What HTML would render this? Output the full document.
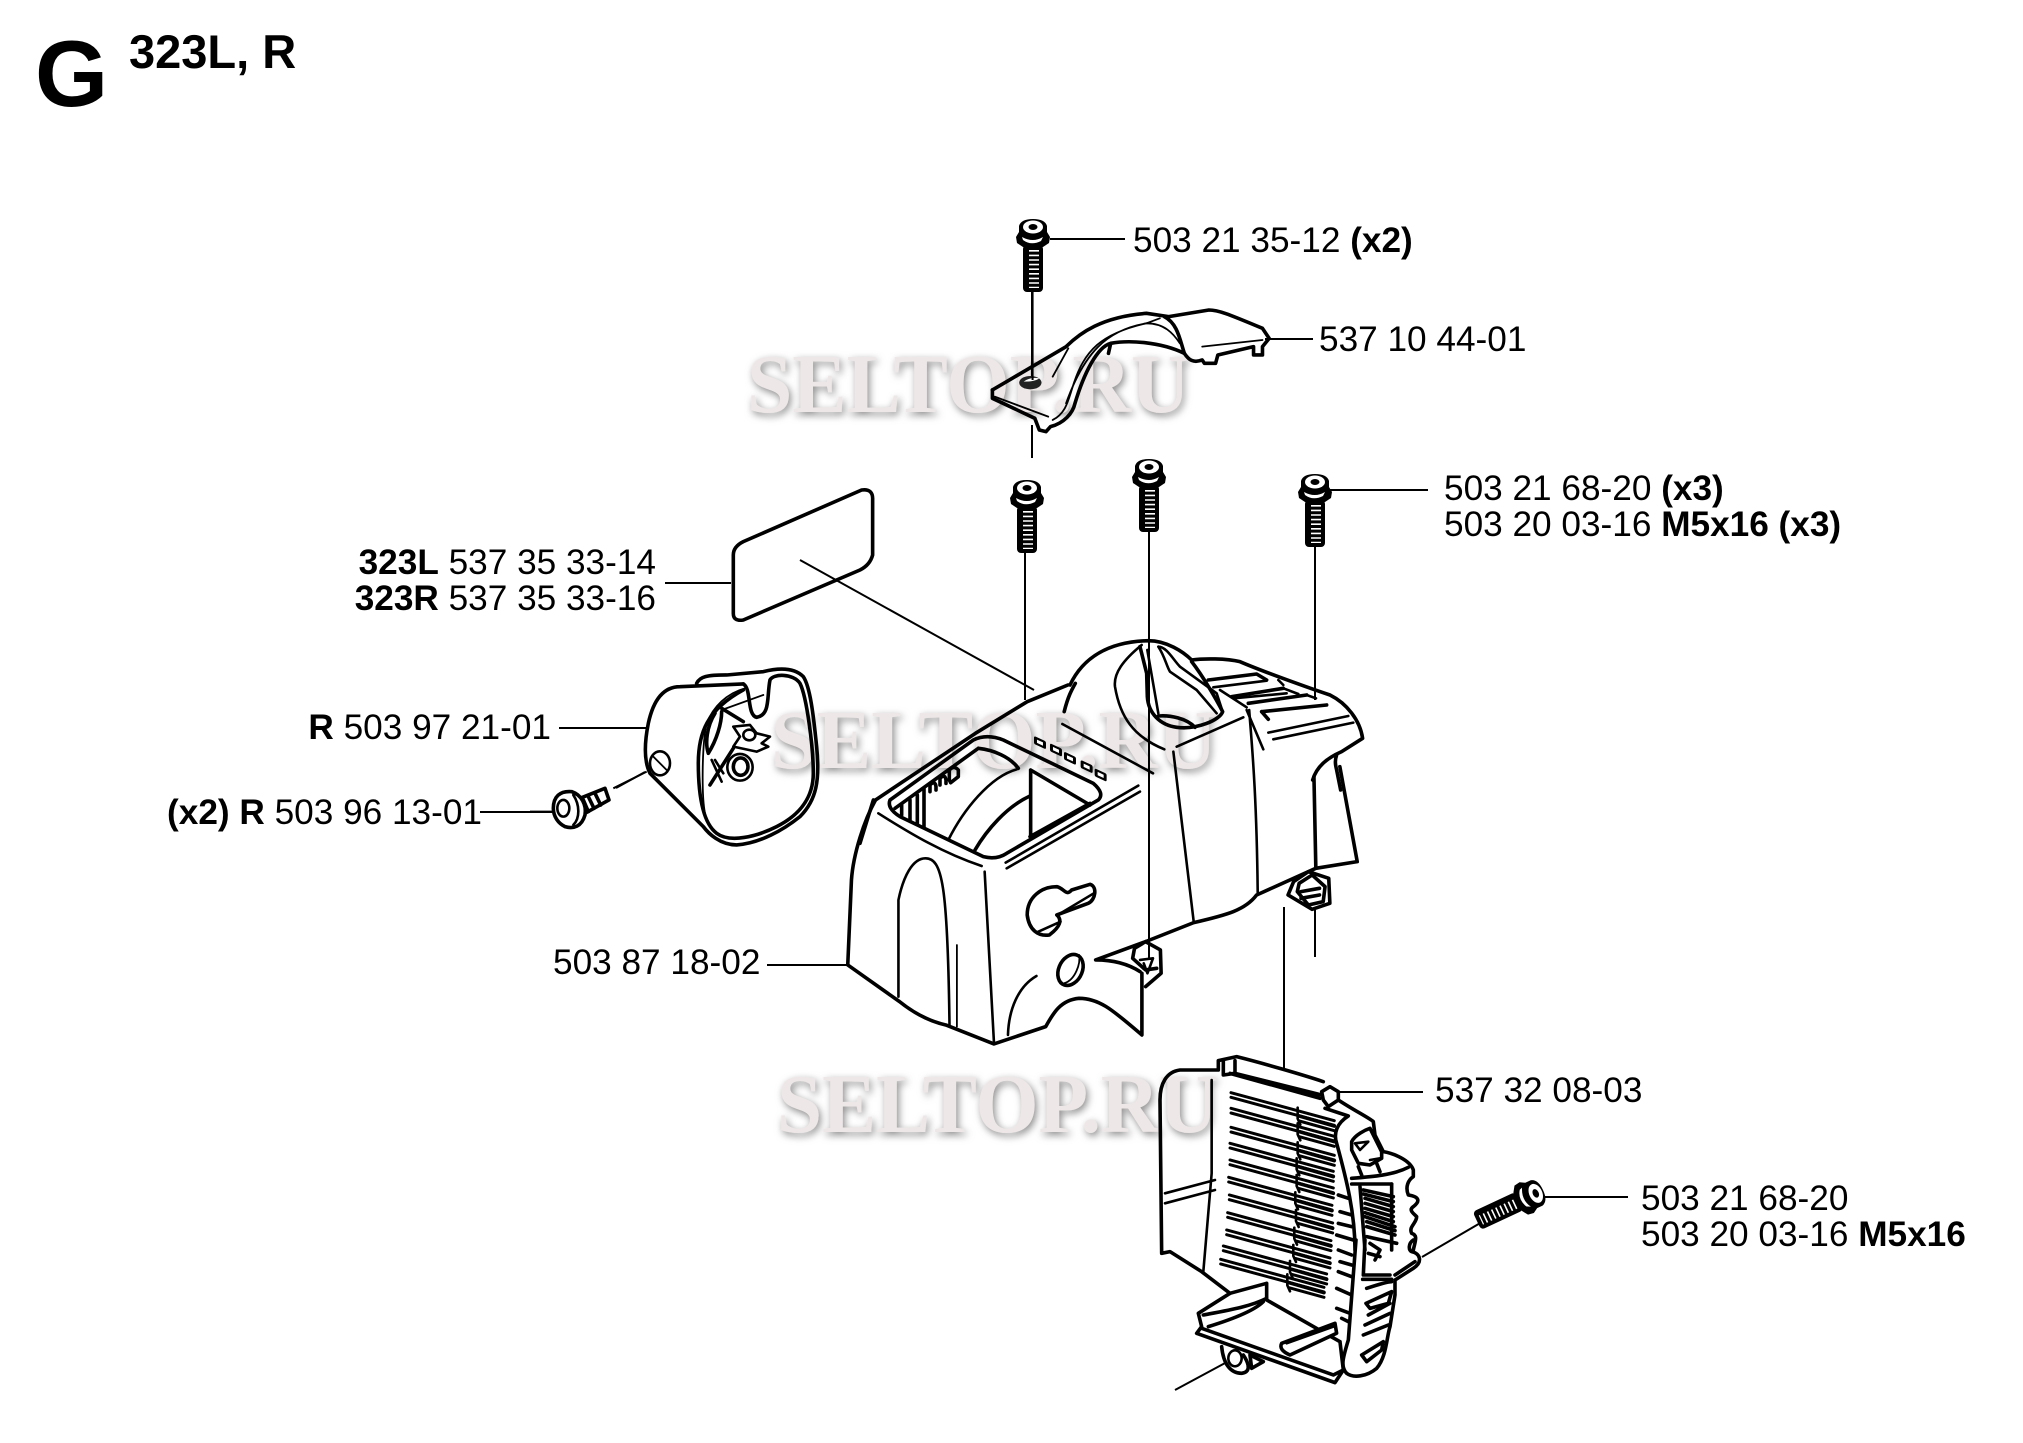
<!DOCTYPE html>
<html><head><meta charset="utf-8"><style>
html,body{margin:0;padding:0;background:#fff}
svg{display:block}
svg *{vector-effect:non-scaling-stroke}
.t{fill:none;stroke:#000;stroke-width:3.6;stroke-linejoin:round;stroke-linecap:round}
.w{fill:#fff;stroke:#000;stroke-width:3.6;stroke-linejoin:round;stroke-linecap:round}
.m{fill:none;stroke:#000;stroke-width:2.6;stroke-linejoin:round;stroke-linecap:round}
.f{fill:none;stroke:#000;stroke-width:3;stroke-linejoin:round;stroke-linecap:round}
.n{fill:none;stroke:#000;stroke-width:1.8;stroke-linejoin:round;stroke-linecap:round}
.l{fill:none;stroke:#000;stroke-width:2}
text{font-family:"Liberation Sans",sans-serif;font-size:35.2px;fill:#000}
.b{font-weight:bold}
.wm{font-family:"Liberation Serif",serif;font-weight:bold;font-size:84px;fill:#eee7e7;filter:url(#sh)}
</style></head><body>
<svg width="2023" height="1443" viewBox="0 0 2023 1443" xmlns="http://www.w3.org/2000/svg">
<defs>
<filter id="sh" x="-10%" y="-30%" width="120%" height="170%"><feDropShadow dx="2" dy="3" stdDeviation="4" flood-color="#8a8a8a"/></filter>
<g id="scr">
<rect x="-10" y="26" width="20" height="47" rx="4" fill="#000"/>
<line x1="1" y1="31" x2="1" y2="69" stroke="#fff" stroke-width="10" stroke-dasharray="1.6 3"/>
<path fill="#000" d="M-14,7Q-12,0 0,0Q12,0 14,7L14,13L17,18L16,24L10,28L-10,28L-16,24L-17,18L-14,13Z"/>
<ellipse cx="0" cy="8" rx="10" ry="6.5" fill="#fff"/>
<ellipse cx="0" cy="8" rx="4.5" ry="3" fill="#000"/>
<path fill="#fff" d="M-11,18Q0,24 10,18L8,22Q-2,27 -10,21Z"/>
</g>
<g id="fin">
<path class="f" d="M0,0L310,84M0,14L310,98"/>
<path class="t" d="M205,70L310,100"/>
<path class="f" d="M205,85L310,114"/>
<path class="m" d="M200,45L200,78L208,96"/>
</g>
<g id="sq"><rect x="-18" y="-12" width="36" height="24" rx="5" fill="#000" transform="skewY(25)"/><rect x="-9" y="-5" width="18" height="10" fill="#fff" transform="skewY(25)"/></g>
</defs>
<text class="wm" x="747" y="412" textLength="443" lengthAdjust="spacingAndGlyphs">SELTOP.RU</text>
<text class="wm" x="771" y="768" textLength="446" lengthAdjust="spacingAndGlyphs">SELTOP.RU</text>
<text class="wm" x="777" y="1132" textLength="441" lengthAdjust="spacingAndGlyphs">SELTOP.RU</text>
<text class="b" x="35" y="106" style="font-size:94px">G</text>
<text class="b" x="129" y="68" style="font-size:47px">323L, R</text>
<text x="1133" y="252">503 21 35-12 <tspan class="b">(x2)</tspan></text>
<text x="1319" y="351">537 10 44-01</text>
<text x="1444" y="500">503 21 68-20 <tspan class="b">(x3)</tspan></text>
<text x="1444" y="536">503 20 03-16 <tspan class="b">M5x16 (x3)</tspan></text>
<text x="656" y="574" text-anchor="end"><tspan class="b">323L</tspan> 537 35 33-14</text>
<text x="656" y="610" text-anchor="end"><tspan class="b">323R</tspan> 537 35 33-16</text>
<text x="551" y="739" text-anchor="end"><tspan class="b">R</tspan> 503 97 21-01</text>
<text x="482" y="824" text-anchor="end"><tspan class="b">(x2) R</tspan> 503 96 13-01</text>
<text x="553" y="974">503 87 18-02</text>
<text x="1435" y="1102">537 32 08-03</text>
<text x="1641" y="1210">503 21 68-20</text>
<text x="1641" y="1246">503 20 03-16 <tspan class="b">M5x16</tspan></text>
<!-- leaders -->
<path class="l" d="M1050,239H1125M1032,292V380M1032,425V458M1329,490H1428M1025,552V700M1149,530V960M1315,546V700M1315,910V957M1265,339H1313M665,583H731M800,560L1034,690M559,728H647M616,788L645,772M480,812H553M767,965H848M1284,907V1068M1337,1092H1423M1545,1197H1628M1422,1257L1482,1222M1175,1390L1227,1362"/>
<!-- screws -->
<use href="#scr" x="1033" y="219"/>
<use href="#scr" x="1027" y="480"/>
<use href="#scr" x="1149" y="459"/>
<use href="#scr" x="1315" y="474"/>
<use href="#scr" transform="translate(1543,1190) rotate(65)"/>
<!-- bracket -->
<g transform="translate(950,200) scale(.4464,.3333)">
<path class="t" d="M95,570L260,440C290,400 340,350 440,340L490,350L580,330C600,330 620,340 700,385L715,415L700,440L700,465L680,465L680,440L600,465L595,490L570,490L565,480C545,490 535,480 525,460C515,420 510,370 480,350"/>
<path class="t" d="M360,430C400,420 470,425 525,460M95,570L95,595L190,655L200,690L215,695L225,680C255,670 275,640 280,610C300,520 330,440 360,430L355,460"/>
<path class="n" d="M100,590L220,650M230,660C260,640 265,600 275,560C300,450 340,400 440,370L470,355M260,610C300,460 350,390 440,370C480,370 500,400 515,430M565,440L700,420M265,445L230,530"/>
<ellipse cx="180" cy="548" rx="25" ry="20" fill="#222"/>
<path fill="#fff" d="M165,545Q180,530 200,535Q190,545 165,545Z"/>
<path class="l" d="M185,540V275"/>
</g>
<!-- sticker + guard -->
<g transform="translate(530,480) scale(.3333)">
<path class="t" d="M640,185L995,30Q1030,25 1028,60L1028,225Q1020,255 990,270L640,420Q610,425 610,400L610,225Q610,200 640,185Z"/>
<path class="t" d="M500,610C510,590 530,585 590,585L700,575C740,565 790,560 820,590C840,620 850,700 860,800C870,900 860,960 810,1010C760,1050 690,1090 620,1095C570,1095 535,1060 520,1040L360,880C340,840 345,780 355,730C370,660 400,620 450,620L640,612"/>
<path class="t" d="M640,612C665,625 650,705 680,712C722,705 710,650 720,600C730,580 790,580 810,610C830,650 850,800 850,880C850,960 800,1010 740,1040C680,1070 600,1090 560,1060C520,1030 505,950 505,850C505,760 530,690 640,630"/>
<path class="n" d="M525,1000C515,950 515,800 530,730C550,680 590,640 645,625M575,690L700,645"/>
<path class="t" d="M575,685L640,725M555,700C530,740 525,790 535,820C560,780 575,730 575,695M540,915L610,805"/>
<path class="m" d="M610,740L660,735L680,760L720,770L695,790L715,800L680,815L610,800L630,770ZM545,840L575,905M555,840L580,880"/>
<ellipse cx="658" cy="765" rx="18" ry="16" class="m"/>
<ellipse cx="630" cy="862" rx="38" ry="40" class="m"/>
<ellipse cx="632" cy="860" rx="22" ry="26" class="t"/>
<ellipse cx="390" cy="850" rx="30" ry="36" class="m"/>
<path class="n" d="M370,830L410,870"/>
<path d="M150,955L225,925L237,960L165,1000Z" class="w"/>
<path class="t" d="M175,950L192,985M195,940L212,975M160,960L175,995"/>
<path class="w" d="M70,985C70,950 90,932 125,935C155,945 170,975 165,1005C155,1040 130,1048 105,1040C85,1030 70,1010 70,985Z"/>
<ellipse cx="100" cy="985" rx="18" ry="25" class="m"/>
<path class="m" d="M130,945C150,975 150,1015 130,1035"/>
<path class="l" d="M0,995H70M250,925L350,875"/>
</g>
<!-- cover body -->
<g transform="translate(820,620) scale(.37,.3333)">
<path class="t" d="M150,540L420,340L560,245L670,195"/>
<path class="t" d="M150,540C120,600 90,700 85,780L75,1035L215,1145C260,1185 300,1205 340,1215L470,1272L610,1220C630,1180 650,1140 700,1135C760,1135 800,1180 870,1245L870,1060"/>
<path class="t" d="M660,275C670,230 680,210 690,190M1335,470L1340,740"/>
<path class="t" d="M1405,440L1452,725L1340,745L1180,825C1150,870 1100,885 1010,908L880,965L745,1020C790,1020 830,1030 865,1055"/>
<path class="m" d="M955,395L1010,905M1160,270C1165,350 1180,500 1183,820M655,312L900,460"/>
<path class="m" d="M212,1130L212,840C225,770 250,715 285,715C330,715 345,790 350,1215M445,755L470,1265"/>
<path class="n" d="M370,975V1220"/>
<path class="m" d="M508,1245C510,1170 535,1100 585,1068"/>
<path class="t" d="M560,885C560,830 600,800 640,800C660,805 665,830 680,810L730,793C750,800 745,840 725,850L640,885C655,900 650,920 620,945C590,950 565,930 560,885Z"/>
<path class="m" d="M590,935L650,905M650,880L740,820"/>
<ellipse cx="677" cy="1050" rx="32" ry="48" class="t" transform="rotate(20 677 1050)"/>
<path class="n" d="M660,1090C690,1080 705,1030 700,1005"/>
<path class="t" d="M880,965L920,990L922,1060L880,1100M880,965L850,985L845,1015L880,1050L910,1045"/>
<path class="m" d="M865,1020L900,1015L885,1060L875,1030"/>
<path class="t" d="M1320,755L1375,775L1378,850L1330,868L1265,825L1280,785Z"/>
<path class="t" d="M1295,790L1330,765L1365,800L1360,845L1320,855L1290,815ZM1300,815L1350,805M1300,835L1350,825"/>
</g>
<!-- cover top right -->
<g transform="translate(1070,630) scale(.3333)">
<path class="t" d="M0,165C40,80 120,35 235,32C290,32 340,65 365,90C400,85 470,85 510,95C580,125 720,175 780,195C830,220 870,270 878,325L815,365C770,385 740,410 728,450"/>
<path class="t" d="M800,375C795,390 795,400 800,420L812,480"/>
<path class="m" d="M215,45C160,90 130,130 135,170C150,260 190,320 283,358M320,350L520,262M530,240L580,358"/>
<path class="t" d="M210,50L230,130L232,200C235,250 270,285 320,292C380,300 450,270 458,245C440,210 400,140 365,95"/>
<path class="m" d="M232,60L265,250M265,50C285,80 290,110 300,125L380,180L440,250M265,50C290,50 310,90 330,110L440,190L458,245"/>
<path class="t" d="M265,258C300,255 350,265 375,292"/>
<path class="t" d="M415,150L560,132L590,150M485,200L640,175M535,220L710,195M575,245L770,225M575,245L595,268"/>
<path class="m" d="M430,172L590,152M490,205L650,190M595,308L835,258M610,328L850,278M640,175L685,192M710,195L738,205M625,150L640,165M450,180L530,232"/>
</g>
<!-- cover window -->
<g transform="translate(860,720) scale(.3333)">
<path class="t" d="M0,370L40,240"/>
<path class="t" d="M90,240L340,60Q380,40 430,60L700,190Q735,220 715,240L440,400Q410,420 370,410L120,290Q80,265 90,240Z"/>
<path class="t" d="M105,265L355,85M355,85C400,90 450,110 475,145M512,150L690,255M512,150V350M510,350L690,250"/>
<path class="m" d="M265,360C310,270 390,170 470,148"/>
<path class="t" d="M345,390C380,330 440,260 510,228"/>
<path class="t" d="M125,285V255M150,300V240M172,312V225M192,322V205"/>
<path class="t" d="M210,215V195Q225,180 228,200V210M240,195V175Q255,160 258,180V190M268,180V150Q282,135 295,150V170L272,188Z"/>
<path class="m" d="M55,280C150,340 250,400 365,438M437,428L835,197M440,445L840,215"/>
<use href="#sq" x="540" y="68"/><use href="#sq" x="588" y="90"/><use href="#sq" x="630" y="115"/><use href="#sq" x="680" y="140"/><use href="#sq" x="722" y="165"/>
</g>
<!-- shroud -->
<g transform="translate(1130,1040) scale(.3333)">
<use href="#fin" x="303" y="158"/><use href="#fin" x="303" y="205"/><use href="#fin" x="303" y="262"/><use href="#fin" x="300" y="310"/><use href="#fin" x="300" y="360"/><use href="#fin" x="296" y="412"/><use href="#fin" x="298" y="465"/><use href="#fin" x="293" y="518"/><use href="#fin" x="290" y="570"/><use href="#fin" x="280" y="618"/><use href="#fin" x="272" y="658"/>
<path fill="#fff" d="M590,205L650,230C620,250 610,280 615,310C640,400 670,500 675,600L680,700L660,840L650,990C660,1015 700,1010 730,985C760,950 770,900 780,850C790,810 790,760 800,710L850,685C870,670 875,650 855,635L860,600L850,500L850,390L760,345L730,250L640,195Z"/>
<path class="t" d="M580,125C520,105 400,70 320,50L265,62L265,90L150,90C110,95 90,130 90,180L95,640L120,635L215,695L300,760"/>
<path class="m" d="M245,120L245,400L220,695M105,460L255,420M105,490L255,450"/>
<path class="t" d="M280,62L280,105L315,100L315,62M315,100L575,165M300,100L570,175"/>
<path class="t" d="M410,730L410,780L630,905M200,880L615,1028L640,990L630,905M200,880L215,860L205,820L300,760L410,730"/>
<path class="t" d="M220,825C300,810 360,800 410,775M235,860C300,840 370,815 400,785M215,865L610,1005L640,990"/>
<path class="w" d="M455,910L615,850L620,880L480,945Q445,930 455,910Z"/>
<path class="m" d="M470,910L610,860"/>
<path class="w" d="M275,920C280,970 300,1000 335,1000C370,995 350,960 340,945"/>
<ellipse cx="315" cy="955" rx="20" ry="24" class="m"/>
<path class="t" d="M360,945L400,965L365,985Z"/>
</g>
<!-- shroud right upper -->
<g transform="translate(1280,1080) scale(.3333)">
<path class="t" d="M125,35L150,20L175,35L175,60L145,80L130,60ZM175,60C220,90 270,115 280,125L285,165L310,215C340,220 390,240 400,270L400,290C385,300 375,320 385,345C420,350 420,365 400,380C385,390 400,400 410,410C410,430 385,440 395,460C415,465 405,485 400,510"/>
<path class="t" d="M135,85L205,108C170,130 160,160 170,190C200,300 225,400 225,510M240,320L255,510"/>
<path class="t" d="M215,185C225,165 255,150 270,145L305,215L305,235L270,255L235,250L215,210Z"/>
<path class="m" d="M225,190L265,185L240,210ZM270,240L300,235"/>
<path class="t" d="M215,295C280,290 340,285 385,262M215,312L335,312M235,260L245,285M290,250L300,275"/>
<path class="t" d="M250,330L340,350M255,355L340,380M255,385L340,410M255,410L345,440M260,440L345,465M260,470L350,490M335,312V510"/>
<path class="t" d="M250,342L340,365M255,370L340,395M255,398L340,425M260,425L345,452"/>
<path class="t" d="M175,345L205,355M180,395L215,405M175,430L215,440M170,465L220,480"/>
</g>
<!-- shroud right lower -->
<g transform="translate(1280,1240) scale(.3333)">
<path class="t" d="M228,0L205,300C190,350 180,380 200,400C220,415 260,410 290,385C320,350 320,290 330,260L345,165L345,120L400,85C430,65 420,40 395,35C385,30 385,10 400,0"/>
<path class="t" d="M255,0L250,105L330,105M248,118L335,118M345,105L405,65M270,10L300,30L285,60M265,40L300,50"/>
<path class="t" d="M260,145C290,135 320,125 335,125M258,190L335,155L325,190L270,205ZM265,225L330,190M255,255L330,220M250,285L325,255M245,345L310,305L305,330L260,365Z"/>
<path class="t" d="M175,30L215,45M175,95L215,110M170,145L215,165M170,205L210,220M180,65L215,75M185,235L205,245"/>
</g>
</svg>
</body></html>
